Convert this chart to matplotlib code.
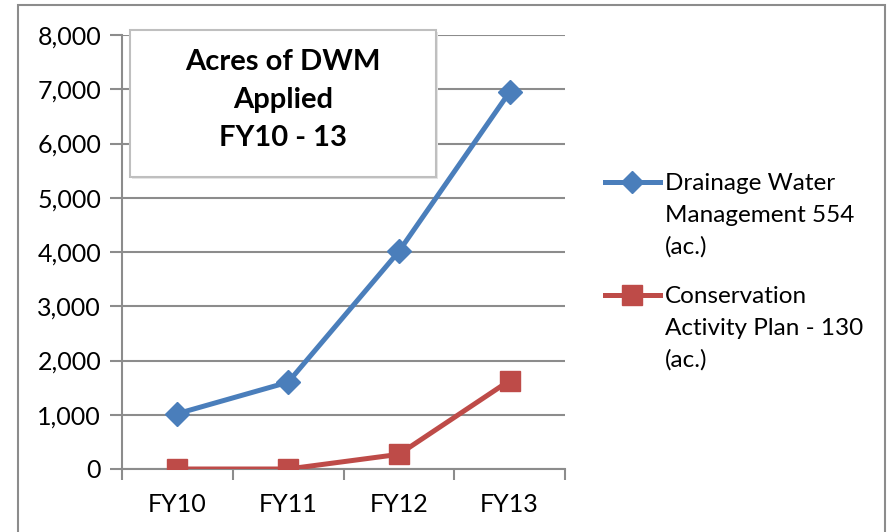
import matplotlib.pyplot as plt
from matplotlib.patches import Rectangle
from matplotlib.lines import Line2D
from matplotlib.ticker import FuncFormatter

years = ['FY10', 'FY11', 'FY12', 'FY13']
dwm = [1020, 1600, 4010, 6950]
cap = [0, 0, 270, 1630]
labels = ['Drainage Water\nManagement 554\n(ac.)', 'Conservation\nActivity Plan - 130\n(ac.)']
title = 'Acres of DWM\nApplied\nFY10 - 13'
blue, red = '#4a7ebb', '#be4b48'

plt.rcParams['font.family'] = ['Lato', 'DejaVu Sans']
W, H = 892, 532
fig = plt.figure(figsize=(W / 100, H / 100), dpi=100)

# outer chart border
fig.patches.append(Rectangle((18 / W, -0.02), (885 - 18) / W, 1.02 - 5 / H, transform=fig.transFigure,
                             fill=False, edgecolor='#8c8c8c', lw=1.5))

ax = fig.add_axes([122 / W, 1 - 469 / H, (565 - 122) / W, (469 - 35) / H])
x = list(range(len(years)))
ax.plot(x, dwm, color=blue, lw=3.6, marker='D', ms=12, zorder=4)
ax.plot(x, cap, color=red, lw=3.6, marker='s', ms=15, zorder=4)

ax.set_xlim(-0.5, 3.5)
ax.set_ylim(0, 8000)
ax.set_yticks(range(0, 8001, 1000))
ax.yaxis.set_major_formatter(FuncFormatter(lambda v, p: f'{int(v):,}'))
ax.set_xticks(x)
ax.set_xticklabels(years)
ax.set_xticks([-0.5, 0.5, 1.5, 2.5, 3.5], minor=True)
ax.tick_params(axis='x', which='major', length=0, labelsize=18, pad=17)
ax.tick_params(axis='x', which='minor', length=8, width=1.5, color='#8c8c8c')
ax.tick_params(axis='y', length=9, width=1.5, color='#8c8c8c', labelsize=18, pad=6)
ax.grid(axis='y', color='#8c8c8c', lw=1.5, zorder=0)
ax.set_axisbelow(True)
for s in ['top', 'right']:
    ax.spines[s].set_visible(False)
for s in ['left', 'bottom']:
    ax.spines[s].set_color('#8c8c8c')
    ax.spines[s].set_linewidth(1.5)

# title box inside plot area
bx0, by0, bx1, by1 = 130, 30, 436, 177
fig.patches.append(Rectangle((bx0 / W + 0.002, 1 - by1 / H - 0.003), (bx1 - bx0) / W, (by1 - by0) / H,
                             transform=fig.transFigure, facecolor='#e6e6e6', edgecolor='none', zorder=5))
fig.patches.append(Rectangle((bx0 / W, 1 - by1 / H), (bx1 - bx0) / W, (by1 - by0) / H,
                             transform=fig.transFigure, facecolor='white', edgecolor='#bfbfbf', lw=1.5, zorder=6))
fig.text((bx0 + bx1) / 2 / W, 1 - 100 / H, title, ha='center', va='center', fontsize=21,
         fontweight='bold', linespacing=1.55, zorder=7)

# legend drawn by hand so the key sits on the first text line
for ypix, col, mk, ms, lab in [(182, blue, 'D', 11, labels[0]), (295, red, 's', 14, labels[1])]:
    yf = 1 - ypix / H
    fig.add_artist(Line2D([605 / W, 660 / W], [yf, yf], transform=fig.transFigure, color=col, lw=3.6))
    fig.add_artist(Line2D([632 / W], [yf], transform=fig.transFigure, color=col, marker=mk, ms=ms, lw=0))
    fig.text(665 / W, yf + 9 / H, lab, ha='left', va='top', fontsize=17.5, linespacing=1.62)

fig.savefig('out.png', dpi=100)
